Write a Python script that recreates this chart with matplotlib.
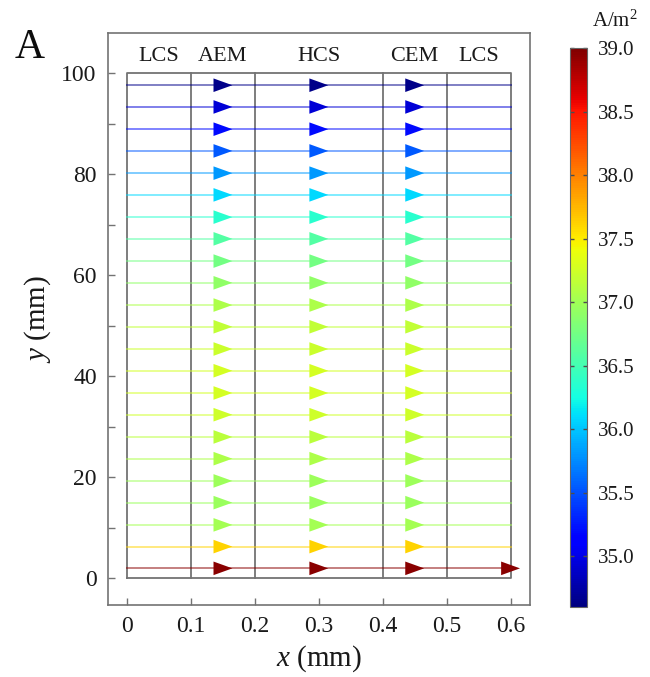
import numpy as np
import matplotlib
matplotlib.use("Agg")
import matplotlib.pyplot as plt

plt.rcParams['font.family'] = ['Liberation Serif', 'DejaVu Serif']
plt.rcParams['mathtext.fontset'] = 'custom'
plt.rcParams['mathtext.it'] = 'Liberation Serif:italic'
plt.rcParams['mathtext.rm'] = 'Liberation Serif'

# streamline heights (mm) and current density on each (A/m2), top to bottom
line_y = [97.6, 93.3, 88.9, 84.6, 80.2, 75.9, 71.5, 67.2, 62.8, 58.5, 54.1, 49.8,
          45.4, 41.1, 36.7, 32.4, 28.0, 23.7, 19.3, 15.0, 10.6, 6.3, 2.0]
line_j = [34.65, 34.93, 35.2, 35.53, 35.81, 36.08, 36.36, 36.58, 36.75, 36.91, 37.07, 37.17,
          37.22, 37.27, 37.28, 37.24, 37.14, 37.06, 36.98, 36.96, 37.02, 37.62, 38.95]
arrow_x = [0.15, 0.3, 0.45]
boundaries = [0.1, 0.2, 0.4, 0.5]
regions = ["LCS", "AEM", "HCS", "CEM", "LCS"]
region_x = [0.05, 0.15, 0.3, 0.45, 0.55]
jmin, jmax = 34.6, 39.0
cb_ticks = [35.0, 35.5, 36.0, 36.5, 37.0, 37.5, 38.0, 38.5, 39.0]

fig = plt.figure(figsize=(6.5, 6.77), dpi=100)
ax = fig.add_axes([0.166, 0.106, 0.649, 0.845])
cax = fig.add_axes([0.877, 0.103, 0.026, 0.826])

cmap = plt.get_cmap('jet')
norm = plt.Normalize(jmin, jmax)
edge = '0.45'

# outer domain box and membrane boundaries
ax.plot([0, 0.6, 0.6, 0, 0], [0, 0, 100, 100, 0], color=edge, lw=1.3, zorder=2)
for b in boundaries:
    ax.plot([b, b], [0, 100], color=edge, lw=1.3, zorder=2)

tri = [(-1, -0.72), (1, 0), (-1, 0.72), (-1, -0.72)]
for yv, jv in zip(line_y, line_j):
    c = cmap(norm(jv))
    ax.plot([0, 0.6], [yv, yv], color=c, lw=1.4, alpha=0.5, zorder=3)
    xs = list(arrow_x)
    if jv > 38.5:
        xs.append(0.6)
    ax.scatter(xs, [yv] * len(xs), c=[jv] * len(xs), cmap=cmap, norm=norm,
               marker=tri, s=185, linewidths=0, zorder=4, clip_on=False)

for name, xv in zip(regions, region_x):
    ax.text(xv, 103.3, name, ha='center', va='center', fontsize=16, color='0.1')

ax.set_xlim(-0.03, 0.63)
ax.set_ylim(-5.3, 107.9)
ax.set_xticks([0, 0.1, 0.2, 0.3, 0.4, 0.5, 0.6])
ax.set_xticklabels(['0', '0.1', '0.2', '0.3', '0.4', '0.5', '0.6'])
ax.set_yticks([0, 20, 40, 60, 80, 100])
ax.set_yticks([10, 30, 50, 70, 90], minor=True)
ax.tick_params(direction='in', length=5, width=1, color=edge, labelsize=17,
               labelcolor='0.1', pad=8)
ax.tick_params(which='minor', direction='in', length=5, width=1, color=edge)
for sp in ax.spines.values():
    sp.set_color(edge)
    sp.set_linewidth(1.2)
ax.set_xlabel('$x$ (mm)', fontsize=21, color='0.1', labelpad=4)
ax.set_ylabel('$y$ (mm)', fontsize=21, color='0.1', labelpad=6)

sm = plt.cm.ScalarMappable(norm=norm, cmap=cmap)
cb = fig.colorbar(sm, cax=cax, ticks=cb_ticks)
cb.ax.set_yticklabels(['%.1f' % t for t in cb_ticks])
cb.ax.tick_params(direction='in', left=True, right=True, length=3, width=1,
                  color='0.3', labelsize=15, labelcolor='0.1', pad=8)
cb.outline.set_edgecolor('0.4')
cb.outline.set_linewidth(0.8)

fig.text(0.046, 0.929, 'A', fontsize=30, ha='center', va='center', color='0.05')
fig.text(0.946, 0.968, 'A/m$^2$', fontsize=15, ha='center', va='center', color='0.1')

fig.savefig('out.png', dpi=100)
